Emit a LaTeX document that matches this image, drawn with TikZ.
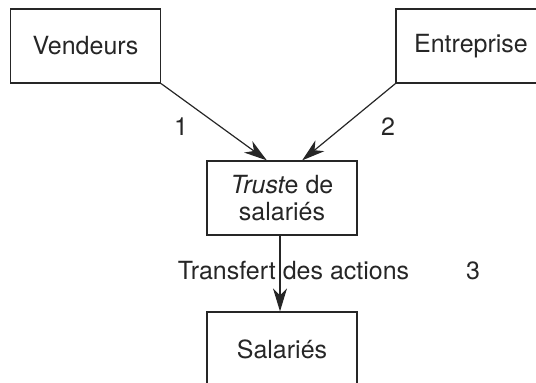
\documentclass[tikz,border=0pt]{standalone}
\usepackage{fontspec}
\setmainfont{TeX Gyre Heros}
\usetikzlibrary{arrows.meta,calc}
\definecolor{ink}{HTML}{262626}
\begin{document}
\begin{tikzpicture}[x=0.5pt,y=-0.5pt,
  every node/.style={font=\fontsize{12.5}{13.5}\selectfont, text=ink},
  boxnode/.style={draw=ink, line width=0.6pt, minimum width=75pt, minimum height=37pt, inner sep=0pt, align=center},
  lbl/.style={inner sep=0pt},
  conn/.style={draw=ink, line width=0.6pt, -{Stealth[length=11.5pt,width=7pt,inset=3.5pt]}}]
\clip (0,0) rectangle (536,383);
\useasboundingbox (0,0) rectangle (536,383);
\node[boxnode] (vend) at (85.5,46) {Vendeurs};
\node[boxnode] (entr) at (471,46) {Entreprise};
\node[boxnode] (trust) at (282,198) {{\itshape Trust}e de\\salariés};
\node[boxnode] (sal) at (282,349) {Salariés};
\node[lbl] (l1) at (181,127) {1};
\node[lbl] (l2) at (388,127) {2};
\node[lbl] (l3) at (473,271) {3};
\node[lbl] (tr) at (293.5,271) {Transfert des actions};
\draw[conn] (vend.south east) -- ($(trust.north west)!0.4!(trust.north east)$);
\draw[conn] (entr.south west) -- ($(trust.north west)!0.633!(trust.north east)$);
\draw[conn] (trust.south -| 280,0) -- (sal.north -| 280,0);
\end{tikzpicture}
\end{document}
